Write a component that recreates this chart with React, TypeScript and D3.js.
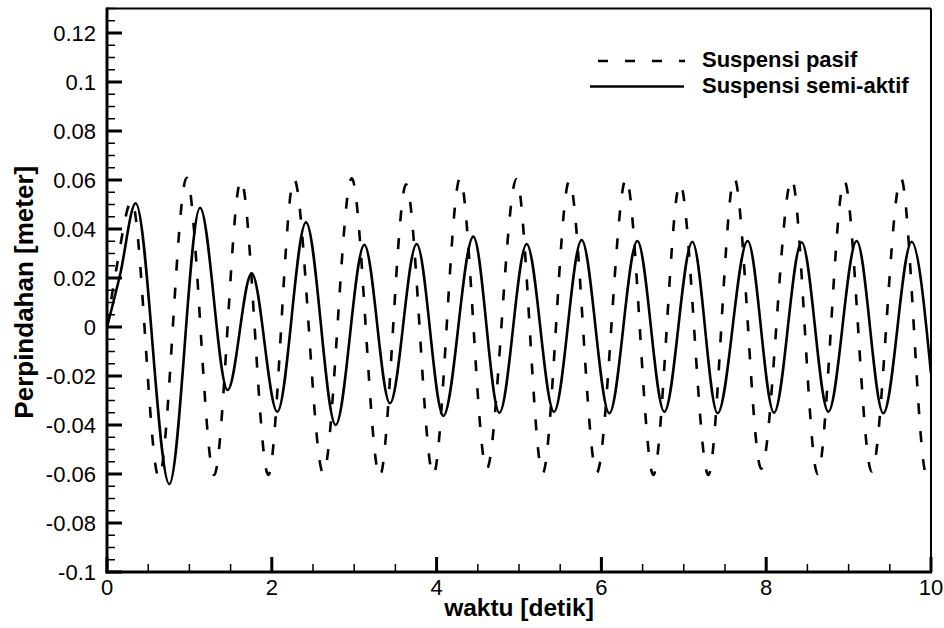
import React from "react";
import * as d3 from "d3";

// Passive suspension (dashed) — extrema
const passiveT = [0, 0.12, 0.30, 0.63, 0.967, 1.30, 1.626, 1.958, 2.27, 2.625, 2.97, 3.31, 3.63, 3.96, 4.284, 4.607, 4.97, 5.287, 5.61, 5.943, 6.30, 6.63, 6.954, 7.298, 7.613, 7.94, 8.31, 8.624, 8.948, 9.28, 9.636, 9.947, 10];
const passiveY = [0, 0.025, 0.0514, -0.0615, 0.0609, -0.0604, 0.060, -0.0604, 0.0604, -0.0597, 0.0607, -0.061, 0.0582, -0.0604, 0.0607, -0.058, 0.0604, -0.0597, 0.0596, -0.0595, 0.0607, -0.0604, 0.0586, -0.0604, 0.0607, -0.0578, 0.0604, -0.060, 0.0596, -0.059, 0.0607, -0.0604, -0.059];

// Semi-active suspension (solid)
const semiT = [0, 0.16, 0.348, 0.756, 1.129, 1.464, 1.756, 2.067, 2.415, 2.775, 3.123, 3.434, 3.758, 4.082, 4.446, 4.762, 5.093, 5.425, 5.76, 6.096, 6.436, 6.764, 7.104, 7.41, 7.775, 8.095, 8.43, 8.754, 9.098, 9.421, 9.765, 10];
const semiY = [0, 0.0215, 0.0505, -0.0641, 0.0487, -0.0257, 0.0219, -0.0346, 0.0427, -0.040, 0.0335, -0.0311, 0.0339, -0.0363, 0.0369, -0.035, 0.0339, -0.0346, 0.0355, -0.0352, 0.0351, -0.0346, 0.0348, -0.0352, 0.0351, -0.035, 0.0346, -0.0346, 0.0351, -0.0352, 0.0348, -0.019];

const xTicks = [0, 2, 4, 6, 8, 10];
const xTickLabels = ["0", "2", "4", "6", "8", "10"];
const yTicks = [-0.1, -0.08, -0.06, -0.04, -0.02, 0, 0.02, 0.04, 0.06, 0.08, 0.1, 0.12];
const yTickLabels = ["-0.1", "-0.08", "-0.06", "-0.04", "-0.02", "0", "0.02", "0.04", "0.06", "0.08", "0.1", "0.12"];
const legendLabels = ["Suspensi pasif", "Suspensi semi-aktif"];
const xTitle = "waktu [detik]";
const yTitle = "Perpindahan [meter]";

const W = 944, H = 628;
const L = 107, R = 931, T = 8.5, B = 572;
const FONT = "'Liberation Sans', Arial, Helvetica, sans-serif";

export default function App() {
  const x = d3.scaleLinear().domain([0, 10]).range([L, R]);
  const y = d3.scaleLinear().domain([-0.1, 0.13]).range([B, T]);

  const line = d3
    .line<[number, number]>()
    .x((d) => x(d[0]))
    .y((d) => y(d[1]))
    .curve(d3.curveMonotoneX);

  const passive = passiveT.map((t, i) => [t, passiveY[i]] as [number, number]);
  const semi = semiT.map((t, i) => [t, semiY[i]] as [number, number]);

  const xMinor = d3.range(0, 10.001, 0.5).filter((v) => Math.round(v * 10) % 20 !== 0);
  const yMinor = d3.range(-0.1, 0.1301, 0.005).filter((v) => Math.round(v * 1000) % 20 !== 0);

  return (
    <svg width={W} height={H} style={{ position: "absolute", left: 0, top: 0, background: "#fff" }} fontFamily={FONT}>
      <defs>
        <clipPath id="plot">
          <rect x={L} y={T} width={R - L} height={B - T} />
        </clipPath>
      </defs>
      <rect x={0} y={0} width={W} height={H} fill="#fff" />
      <g clipPath="url(#plot)" fill="none" stroke="#000" strokeWidth={2.6} strokeLinejoin="round">
        <path d={line(passive) || ""} strokeDasharray="11,17" />
        <path d={line(semi) || ""} />
      </g>
      {/* frame */}
      <line x1={L} y1={T} x2={R} y2={T} stroke="#000" strokeWidth={2} />
      <line x1={R} y1={T} x2={R} y2={B} stroke="#000" strokeWidth={2} />
      <line x1={L} y1={T - 1} x2={L} y2={B + 1.5} stroke="#000" strokeWidth={3} />
      <line x1={L - 1.5} y1={B} x2={R + 1} y2={B} stroke="#000" strokeWidth={3} />
      {/* y ticks */}
      {yTicks.map((v) => (
        <line key={"ym" + v} x1={L} x2={L + 15} y1={y(v)} y2={y(v)} stroke="#000" strokeWidth={3} />
      ))}
      {yMinor.map((v) => (
        <line key={"yn" + v} x1={L} x2={L + 8} y1={y(v)} y2={y(v)} stroke="#000" strokeWidth={1.5} />
      ))}
      {yTicks.map((v, i) => (
        <text key={"yl" + v} x={96} y={y(v)} dy="0.36em" textAnchor="end" fontSize={22}>
          {yTickLabels[i]}
        </text>
      ))}
      {/* x ticks */}
      {xTicks.map((v) => (
        <line key={"xm" + v} x1={x(v)} x2={x(v)} y1={B} y2={B - 15} stroke="#000" strokeWidth={3} />
      ))}
      {xMinor.map((v) => (
        <line key={"xn" + v} x1={x(v)} x2={x(v)} y1={B} y2={B - 8} stroke="#000" strokeWidth={1.5} />
      ))}
      {xTicks.map((v, i) => (
        <text key={"xl" + v} x={x(v)} y={595} textAnchor="middle" fontSize={22}>
          {xTickLabels[i]}
        </text>
      ))}
      {/* titles */}
      <text x={519} y={616} textAnchor="middle" fontSize={24.5} fontWeight="bold">
        {xTitle}
      </text>
      <text transform={`translate(33,${(T + B) / 2 + 2}) rotate(-90)`} textAnchor="middle" fontSize={26} fontWeight="bold">
        {yTitle}
      </text>
      {/* legend */}
      <line x1={598} x2={685} y1={61} y2={61} stroke="#000" strokeWidth={2.6} strokeDasharray="10,17" />
      <line x1={590} x2={684} y1={86.5} y2={86.5} stroke="#000" strokeWidth={2.6} />
      <text x={702} y={67} fontSize={22} fontWeight="bold">{legendLabels[0]}</text>
      <text x={702} y={93} fontSize={22} fontWeight="bold">{legendLabels[1]}</text>
    </svg>
  );
}
